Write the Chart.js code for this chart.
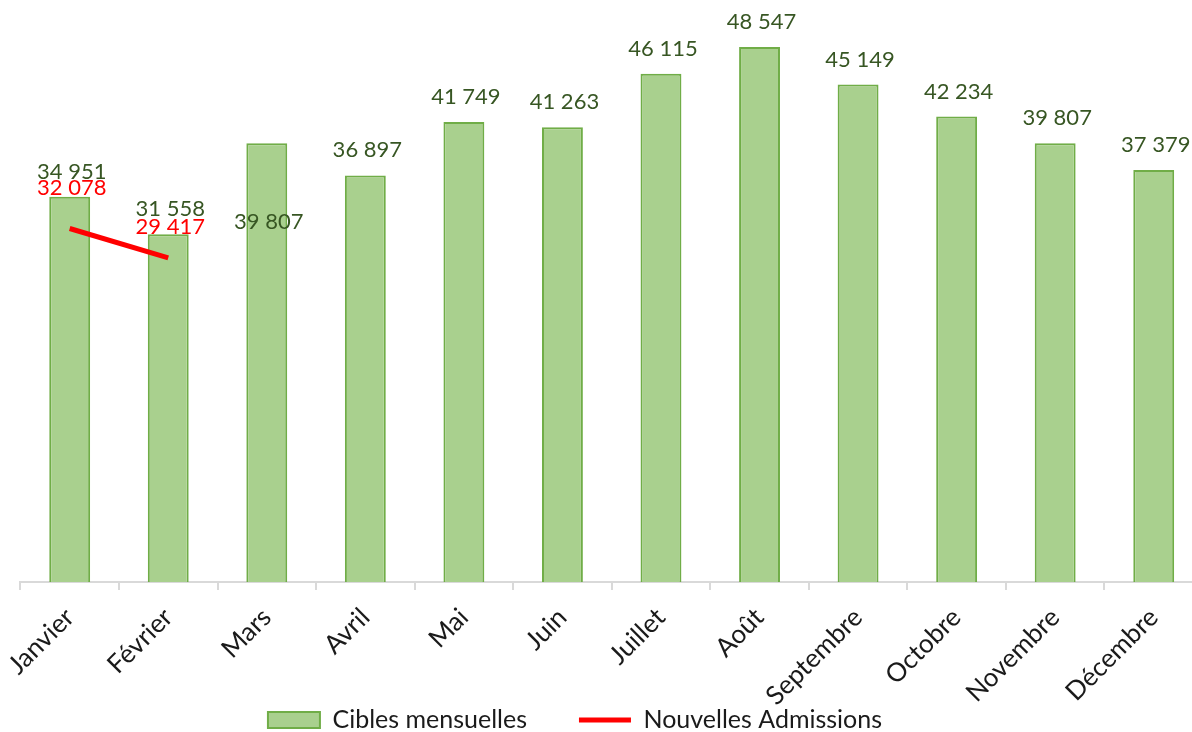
<!DOCTYPE html>
<html>
<head>
<meta charset="utf-8">
<script src="https://cdn.jsdelivr.net/npm/chart.js@4.4.1/dist/chart.umd.min.js"></script>
<style>
  html, body { margin: 0; padding: 0; background: #fff; overflow: hidden; }
  #wrap { width: 1203px; height: 732px; }
</style>
</head>
<body>
<div id="wrap"><canvas id="chart"></canvas></div>
<script>
// ==================== DONNÉES ====================
const mois = ['Janvier', 'Février', 'Mars', 'Avril', 'Mai', 'Juin', 'Juillet',
              'Août', 'Septembre', 'Octobre', 'Novembre', 'Décembre'];
const ciblesMensuelles = [34951, 31558, 39807, 36897, 41749, 41263, 46115,
                          48547, 45149, 42234, 39807, 37379];
const nouvellesAdmissions = [32078, 29417, null, null, null, null, null,
                             null, null, null, null, null];

// décalages des étiquettes (px au-dessus du point)
const barLabelLift = i => (i === 2 ? -79 : 25);
const lineLabelLift = i => (i === 0 ? 41 : 31);

const FONT = 'Lato, "Open Sans", sans-serif';
const LEGEND_PAD = 52;
const LEGEND_FONT = 25;

function fmt(v) {
    return String(v).replace(/\B(?=(\d{3})+(?!\d))/g, ' ');
}

// ==================== PLUGINS ====================
const valueLabels = {
    id: 'valueLabels',
    afterDatasetsDraw(chart) {
        const ctx = chart.ctx;
        ctx.save();
        ctx.font = '22px ' + FONT;
        ctx.textAlign = 'center';
        ctx.textBaseline = 'middle';
        chart.data.datasets.forEach((ds, di) => {
            const meta = chart.getDatasetMeta(di);
            meta.data.forEach((el, i) => {
                const v = ds.data[i];
                if (v == null) return;
                ctx.fillStyle = ds.labelColor;
                ctx.fillText(fmt(v), el.x + 2, el.y - ds.labelLift(i));
            });
        });
        ctx.restore();
    }
};

// légende replacée sous les étiquettes de l'axe
const legendMove = {
    id: 'legendMove',
    afterLayout(chart) {
        const lg = chart.legend;
        if (!lg) return;
        const h = lg.height;
        lg.top = 720 - LEGEND_FONT / 2 - LEGEND_PAD;
        lg.bottom = lg.top + h;
        lg.left -= 36;
        lg.right -= 36;
    }
};

// ==================== CHART ====================
const ctx = document.getElementById('chart').getContext('2d');

new Chart(ctx, {
    data: {
        labels: mois,
        datasets: [{
            type: 'bar',
            label: 'Cibles mensuelles',
            data: ciblesMensuelles,
            backgroundColor: '#A9D08E',
            borderColor: '#70AD47',
            borderWidth: 2,
            categoryPercentage: 1,
            barPercentage: 0.415,
            labelColor: '#375623',
            labelLift: barLabelLift,
            order: 2
        }, {
            type: 'line',
            label: 'Nouvelles Admissions',
            data: nouvellesAdmissions,
            borderColor: '#FF0000',
            backgroundColor: '#FF0000',
            borderWidth: 5,
            pointRadius: 0,
            spanGaps: false,
            labelColor: '#FF0000',
            labelLift: lineLabelLift,
            order: 1
        }]
    },
    options: {
        responsive: true,
        maintainAspectRatio: false,
        animation: false,
        layout: {
            // x: 149 px, légende: font + 10 + pad -> bas de zone à 582
            padding: { left: 19, right: 0, top: 31,
                       bottom: 732 - 582 - 149 - (LEGEND_FONT + 10 + LEGEND_PAD) }
        },
        scales: {
            x: {
                grid: {
                    drawOnChartArea: false,
                    drawTicks: true,
                    tickLength: 8,
                    color: '#D9D9D9',
                    lineWidth: 2
                },
                border: { color: '#D9D9D9', width: 2 },
                ticks: {
                    minRotation: 45,
                    maxRotation: 45,
                    autoSkip: false,
                    padding: 12,
                    color: '#1a1a1a',
                    font: { family: FONT, size: 26 }
                },
                afterFit(scale) {
                    scale.height = 149;
                }
            },
            y: {
                display: false,
                min: 0,
                max: 50000
            }
        },
        plugins: {
            tooltip: { enabled: false },
            legend: {
                position: 'bottom',
                labels: {
                    usePointStyle: true,
                    pointStyleWidth: 52,
                    boxHeight: 16,
                    padding: LEGEND_PAD,
                    color: '#1a1a1a',
                    font: { family: FONT, size: LEGEND_FONT },
                    sort: (a, b) => a.datasetIndex - b.datasetIndex,
                    generateLabels(chart) {
                        const items = Chart.defaults.plugins.legend.labels.generateLabels(chart);
                        items.forEach(it => {
                            if (it.datasetIndex === 0) {
                                it.pointStyle = 'rect';
                                it.fillStyle = '#A9D08E';
                                it.strokeStyle = '#70AD47';
                                it.lineWidth = 2;
                            } else {
                                it.pointStyle = 'line';
                                it.strokeStyle = '#FF0000';
                                it.lineWidth = 5;
                            }
                        });
                        return items;
                    }
                }
            }
        }
    },
    plugins: [valueLabels, legendMove]
});
</script>
</body>
</html>
